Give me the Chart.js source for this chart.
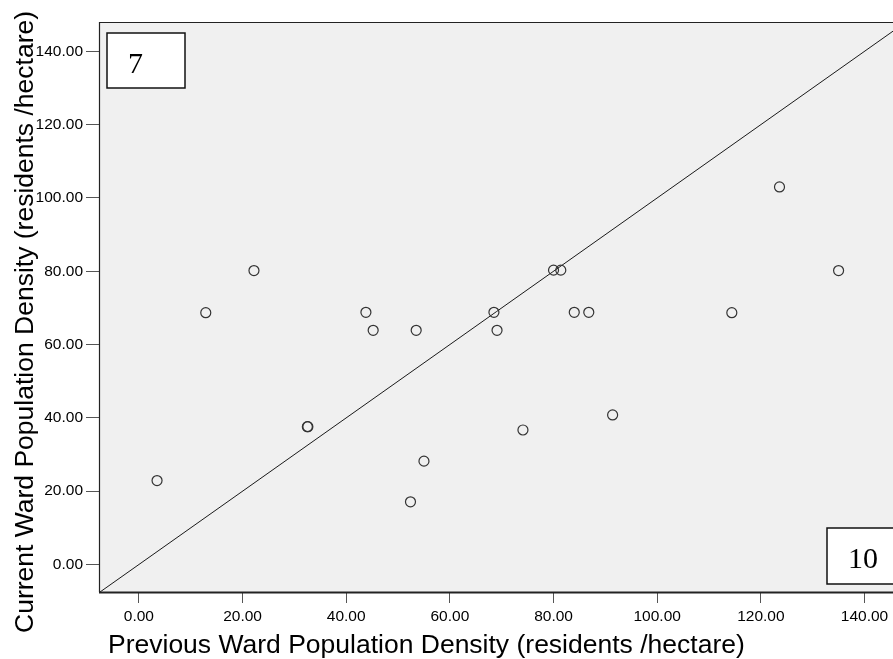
<!DOCTYPE html>
<html>
<head>
<meta charset="utf-8">
<script src="https://cdn.jsdelivr.net/npm/chart.js@4/dist/chart.umd.min.js"></script>
<style>
  html, body { margin: 0; padding: 0; background: #fff; }
  #wrap { width: 893px; height: 659px; position: relative; }
</style>
</head>
<body>
<div id="wrap"><canvas id="c" width="893" height="659"></canvas></div>
<script>
// ---- data ----
const prevDensity = [3.5, 12.9, 22.2, 32.5, 32.6, 43.8, 45.2, 52.4, 53.5, 55.0, 68.5, 69.1, 74.1, 80.0, 81.4, 84.0, 86.8, 91.4, 114.4, 123.6, 135.0];
const currDensity = [22.9, 68.7, 80.2, 37.6, 37.6, 68.8, 63.9, 17.1, 63.9, 28.2, 68.8, 63.9, 36.7, 80.3, 80.3, 68.8, 68.8, 40.8, 68.7, 103.0, 80.2];
const identityLine = [-20, 160];           // y = x reference line endpoints
const xTicks = [0, 20, 40, 60, 80, 100, 120, 140];
const yTicks = [0, 20, 40, 60, 80, 100, 120, 140];
const xRange = [-7.7, 145.5];
const yRange = [-7.5, 148.0];
const xTitle = 'Previous Ward Population Density (residents /hectare)';
const yTitle = 'Current Ward Population Density (residents /hectare)';
const labelTopLeft = '7';
const labelBottomRight = '10';

const SANS = '"Liberation Sans", Arial, sans-serif';
const SERIF = '"Liberation Serif", "Times New Roman", serif';

const points = prevDensity.map((x, i) => ({ x: x, y: currDensity[i] }));
const linePts = identityLine.map(v => ({ x: v, y: v }));

const decor = {
  id: 'decor',
  beforeDatasetsDraw(chart) {
    const { ctx, chartArea: a } = chart;
    ctx.save();
    ctx.fillStyle = '#f0f0f0';
    ctx.fillRect(a.left, a.top, a.right - a.left, a.bottom - a.top);
    ctx.restore();
  },
  afterDraw(chart) {
    const { ctx, chartArea: a } = chart;
    ctx.save();
    // frame
    ctx.strokeStyle = '#222';
    ctx.lineWidth = 1.2;
    ctx.beginPath();
    ctx.moveTo(a.left + 0.5, a.bottom);
    ctx.lineTo(a.left + 0.5, a.top + 0.5);
    ctx.lineTo(a.right + 2, a.top + 0.5);
    ctx.stroke();
    ctx.lineWidth = 2;
    ctx.beginPath();
    ctx.moveTo(a.left, a.bottom + 0.5);
    ctx.lineTo(a.right + 2, a.bottom + 0.5);
    ctx.stroke();

    // label boxes
    function box(x, y, w, h, txt) {
      ctx.fillStyle = '#ffffff';
      ctx.fillRect(x, y, w, h);
      ctx.strokeStyle = '#111';
      ctx.lineWidth = 1.5;
      ctx.strokeRect(x, y, w, h);
      ctx.fillStyle = '#000';
      ctx.font = '30px ' + SERIF;
      ctx.textAlign = 'left';
      ctx.textBaseline = 'alphabetic';
      ctx.fillText(txt, x + 21, y + 40);
    }
    box(a.left + 8, a.top + 11, 78, 55, labelTopLeft);
    box(a.right - 66, a.bottom - 64, 80, 56, labelBottomRight);

    // axis titles
    ctx.fillStyle = '#000';
    ctx.font = '26.5px ' + SANS;
    ctx.textAlign = 'left';
    ctx.textBaseline = 'alphabetic';
    ctx.fillText(xTitle, a.left + 9, a.bottom + 61);
    ctx.translate(a.left - 66, a.bottom + 41);
    ctx.rotate(-Math.PI / 2);
    ctx.fillText(yTitle, 0, 0);
    ctx.restore();
  }
};

new Chart(document.getElementById('c'), {
  type: 'scatter',
  data: {
    datasets: [
      {
        data: linePts,
        showLine: true,
        borderColor: '#1a1a1a',
        borderWidth: 1,
        pointRadius: 0,
        fill: false,
        order: 2
      },
      {
        data: points,
        pointStyle: 'circle',
        pointRadius: 5,
        pointBorderWidth: 1.2,
        pointBorderColor: '#333',
        pointBackgroundColor: 'rgba(0,0,0,0)',
        order: 1
      }
    ]
  },
  options: {
    responsive: false,
    animation: false,
    events: [],
    layout: { autoPadding: false, padding: { top: 22, right: 0, left: 0, bottom: 0 } },
    plugins: { legend: { display: false }, tooltip: { enabled: false } },
    scales: {
      x: {
        type: 'linear',
        min: xRange[0], max: xRange[1],
        afterBuildTicks: s => { s.ticks = xTicks.map(v => ({ value: v })); },
        afterFit: s => { s.height = 67; s.paddingLeft = 0; s.paddingRight = 0; },
        border: { display: false },
        grid: { drawOnChartArea: false, drawTicks: true, tickLength: 11, color: '#555', lineWidth: 1 },
        ticks: {
          color: '#000', padding: 4, maxRotation: 0, autoSkip: false,
          font: { family: SANS, size: 15.5 },
          callback: v => Number(v).toFixed(2)
        }
      },
      y: {
        type: 'linear',
        min: yRange[0], max: yRange[1],
        afterBuildTicks: s => { s.ticks = yTicks.map(v => ({ value: v })); },
        afterFit: s => { s.width = 99; s.paddingTop = 0; s.paddingBottom = 0; },
        border: { display: false },
        grid: { drawOnChartArea: false, drawTicks: true, tickLength: 13, color: '#555', lineWidth: 1 },
        ticks: {
          color: '#000', padding: 3, autoSkip: false,
          font: { family: SANS, size: 15.5 },
          callback: v => Number(v).toFixed(2)
        }
      }
    }
  },
  plugins: [decor]
});
</script>
</body>
</html>
